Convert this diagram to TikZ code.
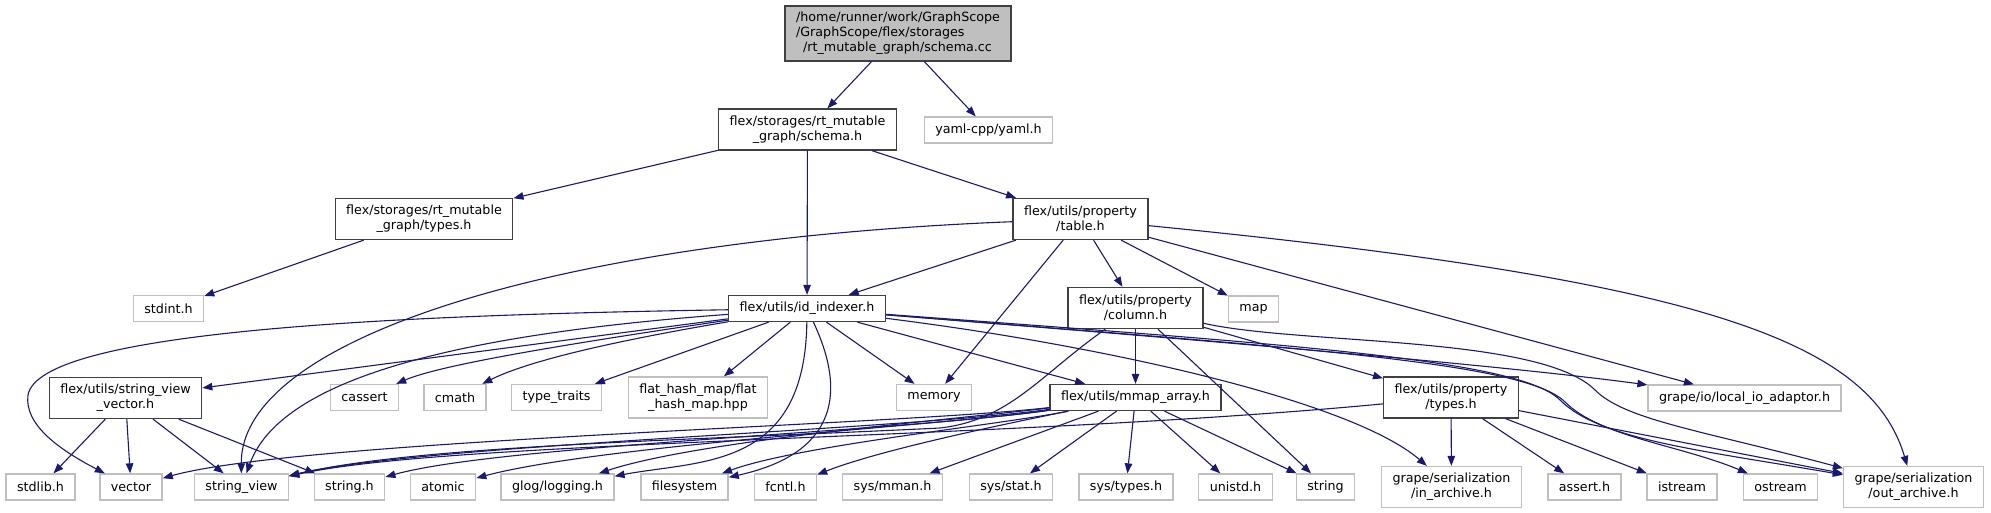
\documentclass[tikz,border=0pt]{standalone}
\usepackage{fontspec}
\setmainfont{DejaVu Sans}
\usepackage{tikz}
\usetikzlibrary{arrows.meta}
\definecolor{incblue}{HTML}{191970}
\definecolor{boxedge}{HTML}{404040}
\definecolor{sysedge}{HTML}{BFBFBF}
\definecolor{srcfill}{HTML}{BFBFBF}

\begin{document}
\begin{tikzpicture}[
  x=1pt, y=-1pt,
  hdr/.style={draw=boxedge, line width=1.3pt, fill=white, inner xsep=11pt, inner ysep=0pt, minimum height=26pt, align=center, font=\fontsize{12.7}{15}\selectfont},
  ext/.style={hdr, draw=sysedge},
  src/.style={hdr, fill=srcfill, align=left, minimum height=55pt},
  dbl/.style={minimum height=41pt},
  arr/.style={-{Triangle[length=10pt,width=7.5pt]}, incblue, line width=1.1pt}
]
  \useasboundingbox (0,0) rectangle (1991,513);

  \node[src] (root) at (898,33.5) {/home/runner/work/GraphScope\\/GraphScope/flex/storages\\\hspace*{7pt}/rt\_mutable\_graph/schema.cc};
  \node[hdr, dbl] (schema) at (807.5,129.5) {flex/storages/rt\_mutable\\\_graph/schema.h};
  \node[ext] (yaml) at (988.5,130) {yaml-cpp/yaml.h};
  \node[hdr, dbl] (typesS) at (424,219) {flex/storages/rt\_mutable\\\_graph/types.h};
  \node[hdr, dbl] (table) at (1080.5,219) {flex/utils/property\\/table.h};
  \node[ext] (stdint) at (168.5,308.5) {stdint.h};
  \node[hdr] (idx) at (807,308.5) {flex/utils/id\_indexer.h};
  \node[hdr, dbl] (column) at (1135.5,308) {flex/utils/property\\/column.h};
  \node[ext] (map) at (1253.5,309) {map};
  \node[hdr, dbl] (svv) at (125.5,398) {flex/utils/string\_view\\\_vector.h};
  \node[ext] (cassert) at (364.5,397.5) {cassert};
  \node[ext] (cmath) at (455,397.5) {cmath};
  \node[ext] (typetr) at (556.5,397.5) {type\_traits};
  \node[ext, dbl] (fhm) at (698,397.5) {flat\_hash\_map/flat\\\_hash\_map.hpp};
  \node[ext] (memory) at (934,397.5) {memory};
  \node[hdr] (mmap) at (1135.5,397.5) {flex/utils/mmap\_array.h};
  \node[hdr, dbl] (ptypes) at (1451,397.5) {flex/utils/property\\/types.h};
  \node[ext] (localio) at (1744.5,398) {grape/io/local\_io\_adaptor.h};

  \node[ext] (stdlib) at (40.5,487) {stdlib.h};
  \node[ext] (vector) at (131,487) {vector};
  \node[ext] (strview) at (241.5,487) {string\_view};
  \node[ext] (strh) at (349.5,487) {string.h};
  \node[ext] (atomic) at (443,487) {atomic};
  \node[ext] (glog) at (557.5,487) {glog/logging.h};
  \node[ext] (fsys) at (684.5,487) {filesystem};
  \node[ext] (fcntl) at (785.5,487) {fcntl.h};
  \node[ext] (mman) at (892.5,487) {sys/mman.h};
  \node[ext] (sstat) at (1011,487) {sys/stat.h};
  \node[ext] (stypes) at (1126,487) {sys/types.h};
  \node[ext] (unistd) at (1235.5,487) {unistd.h};
  \node[ext] (string) at (1325.5,487) {string};
  \node[ext, dbl] (inar) at (1451.5,487) {grape/serialization\\/in\_archive.h};
  \node[ext] (assert) at (1584.5,487) {assert.h};
  \node[ext] (istream) at (1682,487) {istream};
  \node[ext] (ostream) at (1780.5,487) {ostream};
  \node[ext, dbl] (outar) at (1913.5,487) {grape/serialization\\/out\_archive.h};

  \draw[arr] (root) -- (schema);
  \draw[arr] (root) -- (yaml);
  \draw[arr] (schema) -- (typesS);
  \draw[arr] (schema) -- (idx);
  \draw[arr] (schema) -- (table);
  \draw[arr] (typesS) -- (stdint);

  \draw[arr] (table) -- (idx);
  \draw[arr] (table) .. controls (550,240) and (240,340) .. (strview);
  \draw[arr] (table) -- (memory);
  \draw[arr] (table) -- (column);
  \draw[arr] (table) -- (map);
  \draw[arr] (table) -- (localio);
  \draw[arr] (table) .. controls (1700,280) and (1870,340) .. (outar);

  \draw[arr] (idx) .. controls (400,315) and (40,330) .. (28,395) .. controls (24,425) and (60,450) .. (vector);
  \draw[arr] (idx) -- (svv);
  \draw[arr] (idx) .. controls (450,335) and (280,380) .. (strview);
  \draw[arr] (idx) .. controls (560,345) and (440,365) .. (cassert);
  \draw[arr] (idx) .. controls (620,340) and (530,360) .. (cmath);
  \draw[arr] (idx) -- (typetr);
  \draw[arr] (idx) -- (fhm);
  \draw[arr] (idx) -- (memory);
  \draw[arr] (idx) -- (mmap);
  \draw[arr] (idx) .. controls (805,470) and (700,460) .. (glog);
  \draw[arr] (idx) .. controls (850,400) and (830,455) .. (fsys);
  \draw[arr] (idx) .. controls (1100,345) and (1350,400) .. (inar);
  \draw[arr] (idx) .. controls (1200,340) and (1500,365) .. (localio);
  \draw[arr] (idx) .. controls (1300,348) and (1525,362) .. (1565,402) .. controls (1600,437) and (1680,445) .. (ostream);
  \draw[arr] (idx) .. controls (1300,345) and (1520,360) .. (1560,400) .. controls (1600,440) and (1700,450) .. (outar);

  \draw[arr] (column) -- (mmap);
  \draw[arr] (column) -- (string);
  \draw[arr] (column) -- (ptypes);
  \draw[arr] (column) .. controls (1300,345) and (1540,335) .. (1595,390) .. controls (1625,420) and (1700,430) .. (outar);
  \draw[arr] (column) .. controls (1040,375) and (1010,420) .. (940,428) .. controls (700,440) and (420,445) .. (strview);

  \draw[arr] (svv) -- (stdlib);
  \draw[arr] (svv) -- (vector);
  \draw[arr] (svv) -- (strview);
  \draw[arr] (svv) -- (strh);

  \draw[arr] (mmap) .. controls (900,425) and (300,440) .. (vector);
  \draw[arr] (mmap) .. controls (900,430) and (420,445) .. (strview);
  \draw[arr] (mmap) .. controls (900,432) and (500,445) .. (strh);
  \draw[arr] (mmap) .. controls (950,425) and (600,445) .. (atomic);
  \draw[arr] (mmap) .. controls (950,420) and (700,440) .. (glog);
  \draw[arr] (mmap) .. controls (1000,425) and (800,445) .. (fsys);
  \draw[arr] (mmap) .. controls (1000,425) and (880,450) .. (fcntl);
  \draw[arr] (mmap) -- (mman);
  \draw[arr] (mmap) -- (sstat);
  \draw[arr] (mmap) -- (stypes);
  \draw[arr] (mmap) -- (unistd);
  \draw[arr] (mmap) -- (string);

  \draw[arr] (ptypes) -- (inar);
  \draw[arr] (ptypes) -- (assert);
  \draw[arr] (ptypes) -- (istream);
  \draw[arr] (ptypes) -- (outar);
  \draw[arr] (ptypes) .. controls (1000,440) and (450,440) .. (strview);
\end{tikzpicture}
\end{document}
